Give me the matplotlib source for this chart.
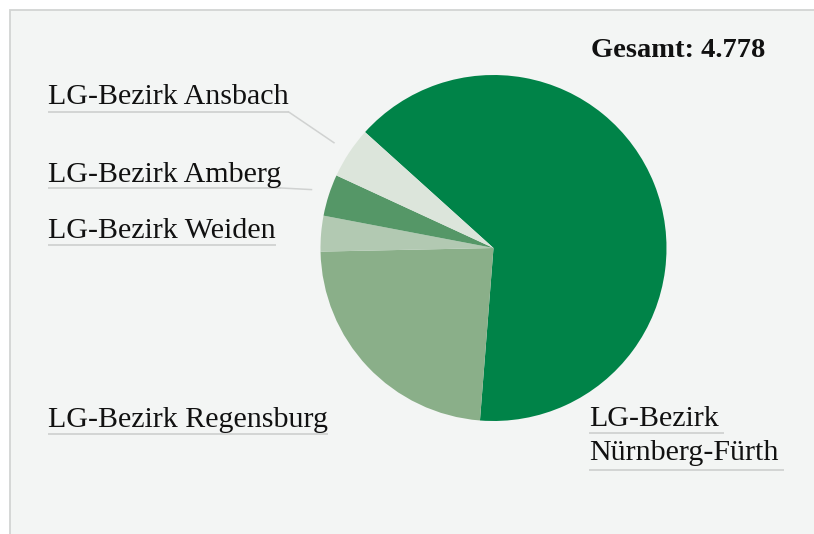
import numpy as np
import matplotlib
matplotlib.use("Agg")
import matplotlib.pyplot as plt
from matplotlib.patches import Rectangle

# Anteile je LG-Bezirk (Reihenfolge im Uhrzeigersinn ab Nürnberg-Fürth)
bezirke = ["LG-Bezirk\nNürnberg-Fürth", "LG-Bezirk Regensburg", "LG-Bezirk Weiden",
           "LG-Bezirk Amberg", "LG-Bezirk Ansbach"]
werte = [3085, 1119, 159, 186, 229]
farben = ["#008348", "#8aaf89", "#b2c9b2", "#559767", "#dce5db"]
gesamt_text = "Gesamt: 4.778"

W, H = 814, 534
fig = plt.figure(figsize=(W / 100, H / 100), dpi=100)
ax = fig.add_axes([0, 0, 1, 1])
ax.set_xlim(0, W)
ax.set_ylim(0, H)
ax.set_aspect("equal")
ax.axis("off")

def py(y):
    # Pixel-y von oben -> Datenkoordinate
    return H - y

# Hintergrundfläche mit Rahmen links/oben
ax.add_patch(Rectangle((10, -10), W + 20, py(10) + 10, facecolor="#f3f5f4",
                       edgecolor="#d2d4d3", linewidth=1.3, zorder=0))

cx, cy, r = 493.5, py(248), 173
wedges, _ = ax.pie(werte, colors=farben, startangle=137.95, counterclock=False,
                   center=(cx, cy), radius=r, frame=True,
                   wedgeprops=dict(linewidth=0))
ax.set_xlim(0, W)
ax.set_ylim(0, H)
ax.axis("off")

font = dict(family="Liberation Serif", fontsize=21.6, color="#111111")
linie = "#d0d2d1"

fig.canvas.draw()
renderer = fig.canvas.get_renderer()

def text_breite(t):
    bb = t.get_window_extent(renderer=renderer)
    return bb.width

# Beschriftungen links: (Index, Grundlinie, Unterstrich, Führungslinie?)
links = [(4, 104, 112, True), (3, 182, 188, True), (2, 238, 245, False), (1, 427, 434, False)]
for i, base, ul, leader in links:
    t = ax.text(48, py(base), bezirke[i], ha="left", va="baseline", **font)
    x_end = 48 + text_breite(t)
    ax.plot([48, x_end], [py(ul), py(ul)], color=linie, lw=1.3, solid_capstyle="butt")
    if leader:
        w = wedges[i]
        mid = np.deg2rad((w.theta1 + w.theta2) / 2)
        ex = cx + 1.105 * r * np.cos(mid)
        ey = cy + 1.105 * r * np.sin(mid)
        ax.plot([x_end, ex], [py(ul), ey], color=linie, lw=1.1)

# Nürnberg-Fürth, zweizeilig rechts unten
zeilen = bezirke[0].split("\n")
for zeile, base, ul in zip(zeilen, [426, 460], [433, 470]):
    t = ax.text(589, py(base), zeile, ha="left", va="baseline", **font)
    ax.plot([589, 589 + text_breite(t) + 5], [py(ul), py(ul)], color=linie, lw=1.3,
            solid_capstyle="butt")

ax.text(765, py(57), gesamt_text, ha="right", va="baseline", family="Liberation Serif",
        fontsize=20.5, fontweight="bold", color="#111111")

fig.savefig("out.png", dpi=100, facecolor="white")
